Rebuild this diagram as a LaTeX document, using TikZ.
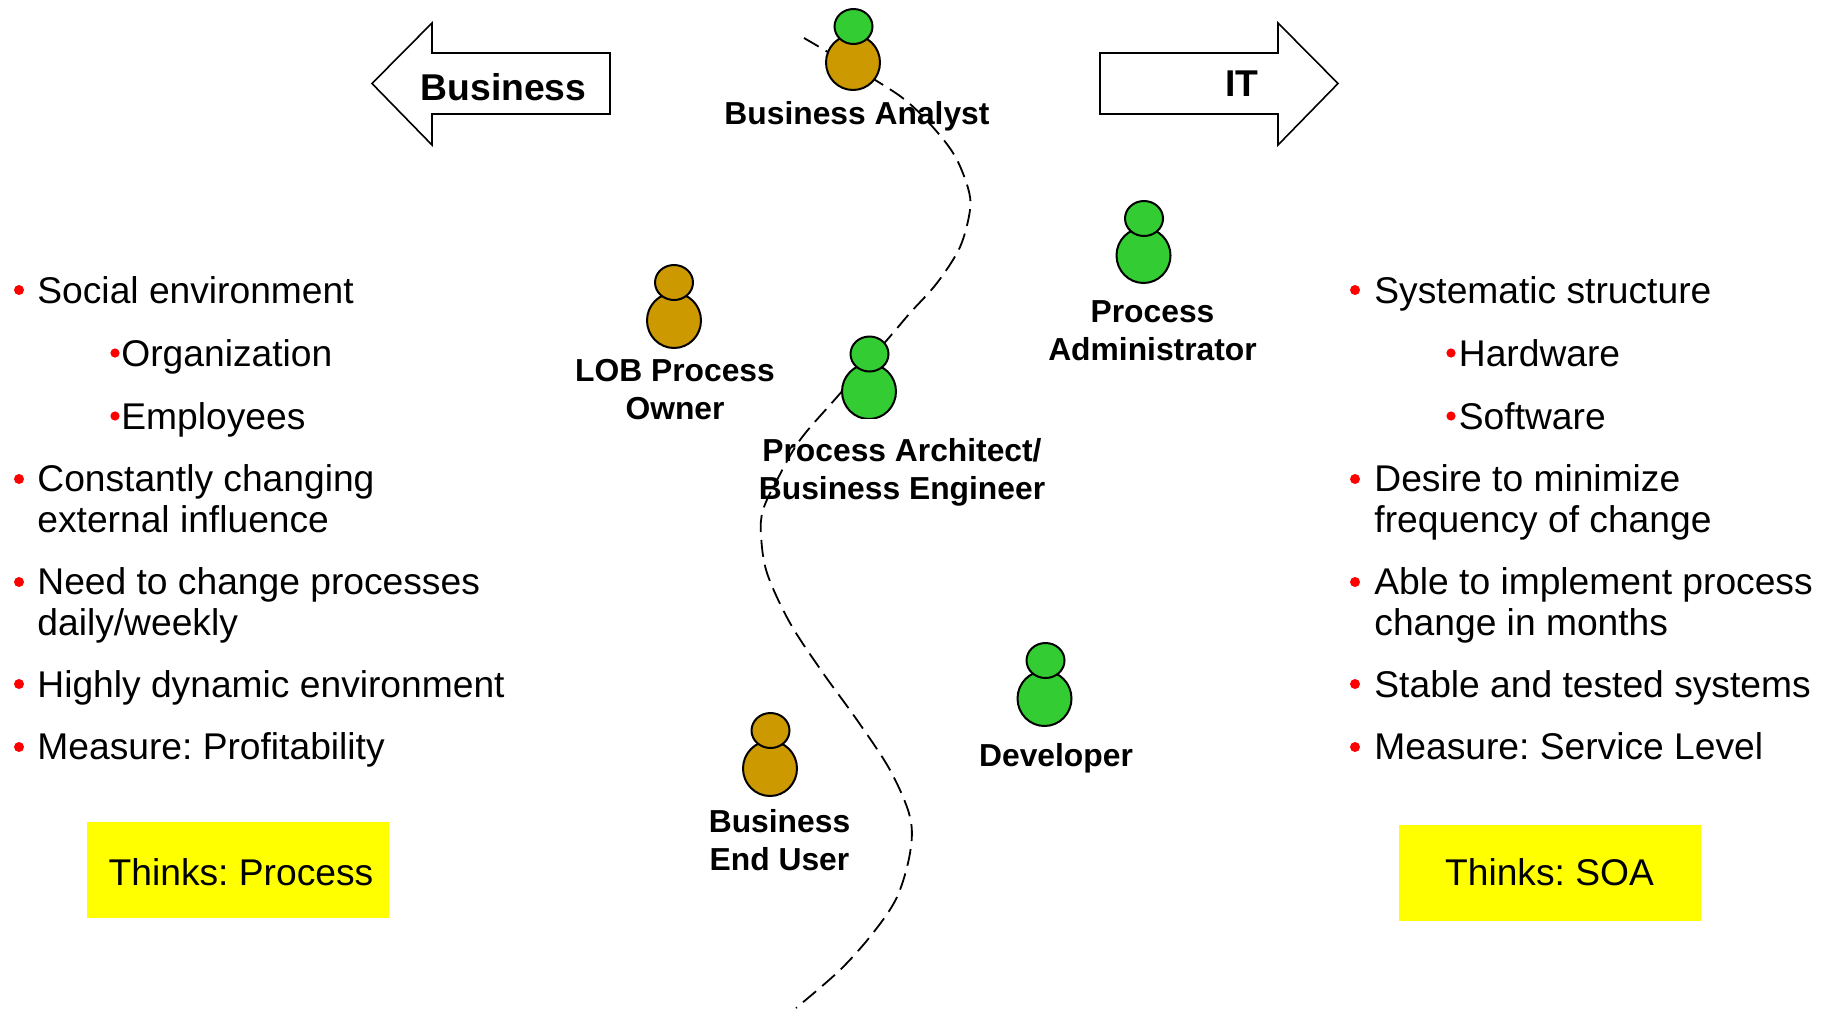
\documentclass[tikz,border=0pt]{standalone}
\usepackage{fontspec}
\setmainfont{Liberation Sans}
\frenchspacing
\usetikzlibrary{shapes.geometric}
\definecolor{pgreen}{RGB}{51,204,51}
\definecolor{pbrown}{RGB}{204,153,0}
\definecolor{bulletred}{RGB}{255,0,0}
\definecolor{noteyellow}{RGB}{255,255,0}
\tikzset{
  headshape/.style={ellipse,draw=black,line width=1pt,inner sep=0pt,minimum width=19pt,minimum height=17.5pt},
  bodyshape/.style={ellipse,draw=black,line width=1pt,inner sep=0pt,minimum width=27pt,minimum height=27.5pt},
  rolelabel/.style={font=\bfseries\fontsize{15.9pt}{19pt}\selectfont,align=center,inner sep=0pt,anchor=base},
  bigarrow/.style={draw=black,line width=0.8pt,fill=white,line join=miter},
  arrowlabel/.style={font=\bfseries\fontsize{18.65pt}{22pt}\selectfont,inner sep=0pt,anchor=base},
  bodytext/.style={font=\fontsize{18.6pt}{20.5pt}\selectfont,align=left,inner sep=0pt,anchor=base west},
  dot/.style={circle,fill=bulletred,inner sep=0pt,minimum size=5pt},
  subdot/.style={circle,fill=bulletred,inner sep=0pt,minimum size=4.6pt},
  noteBox/.style={fill=noteyellow,inner sep=0pt,minimum width=151pt,minimum height=48pt},
  noteText/.style={font=\fontsize{18.6pt}{22pt}\selectfont,inner sep=0pt,anchor=base},
  boundary/.style={draw=black,line width=0.9pt,dash pattern=on 8.5pt off 4pt,line cap=butt},
}
\begin{document}
\begin{tikzpicture}[x=0.5pt,y=-0.5pt]
\useasboundingbox (0,0) rectangle (1829,1013);
% boundary
\draw[boundary] plot[smooth,tension=0.55] coordinates {(804,38)(880,83)(910,104)(938,133)(956,158)(968,188)(970,210)(960,247)(937,283)(910,313)(887,340)(837,397)(800,440)(777,480)(763,510)(761,535)(767,573)(790,623)(823,673)(857,720)(890,770)(910,817)(910,853)(897,897)(873,933)(840,970)(796,1008)};
% arrows
\draw[bigarrow] (610,53) -- (432,53) -- (432,23) -- (372,83.5) -- (432,145) -- (432,114) -- (610,114) -- cycle;
\draw[bigarrow] (1100,53) -- (1278,53) -- (1278,23) -- (1338,83.5) -- (1278,145) -- (1278,114) -- (1100,114) -- cycle;
\node[arrowlabel] (lblBusiness) at (503.5,100) {Business};
\node[arrowlabel] (lblIT) at (1242,96.5) {IT};
% people
\node[bodyshape,fill=pbrown] (analystBody) at (853,62.5) {};
\node[headshape,fill=pgreen] (analystHead) at (853.5,26.5) {};
\node[rolelabel] (analystLbl) at (857,124) {Business Analyst};
\node[bodyshape,fill=pgreen] (adminBody) at (1143.5,255.5) {};
\node[headshape,fill=pgreen] (adminHead) at (1144,218.5) {};
\node[rolelabel] (adminLbl) at (1152.5,360.5) {Process\\Administrator};
\node[bodyshape,fill=pbrown] (lobBody) at (674,320.5) {};
\node[headshape,fill=pbrown] (lobHead) at (674,282.5) {};
\node[rolelabel] (lobLbl) at (675,419) {LOB Process\\Owner};
\begin{scope}
\clip (800,320) rectangle (940,418);
\node[bodyshape,fill=pgreen] (archBody) at (869,391.5) {};
\end{scope}
\node[headshape,fill=pgreen] (archHead) at (869.5,354) {};
\node[rolelabel] (archLbl) at (902,499.5) {Process Architect/\\Business Engineer};
\node[bodyshape,fill=pgreen] (devBody) at (1044.5,698.5) {};
\node[headshape,fill=pgreen] (devHead) at (1045.5,660.5) {};
\node[rolelabel] (devLbl) at (1056,766) {Developer};
\node[bodyshape,fill=pbrown] (userBody) at (770,768.5) {};
\node[headshape,fill=pbrown] (userHead) at (770.5,730.5) {};
\node[rolelabel] (userLbl) at (779.5,870) {Business\\End User};
% left list
\node[dot] (l1d) at (19,290) {};
\node[bodytext] (l1) at (37,303) {Social environment};
\node[subdot] (l2d) at (115,353) {};
\node[bodytext] (l2) at (121,366) {Organization};
\node[subdot] (l3d) at (115,416) {};
\node[bodytext] (l3) at (121,429) {Employees};
\node[dot] (l4d) at (19,479) {};
\node[bodytext] (l4) at (37,532) {Constantly changing\\external influence};
\node[dot] (l5d) at (19,582) {};
\node[bodytext] (l5) at (37,635) {Need to change processes\\daily/weekly};
\node[dot] (l6d) at (19,684) {};
\node[bodytext] (l6) at (37,697) {Highly dynamic environment};
\node[dot] (l7d) at (19,747) {};
\node[bodytext] (l7) at (37,759.5) {Measure: Profitability};
% right list
\node[dot] (r1d) at (1355,290) {};
\node[bodytext] (r1) at (1374,303) {Systematic structure};
\node[subdot] (r2d) at (1451,353) {};
\node[bodytext] (r2) at (1458.5,366) {Hardware};
\node[subdot] (r3d) at (1451,416) {};
\node[bodytext] (r3) at (1458.5,429) {Software};
\node[dot] (r4d) at (1355,479) {};
\node[bodytext] (r4) at (1374,532) {Desire to minimize\\frequency of change};
\node[dot] (r5d) at (1355,582) {};
\node[bodytext] (r5) at (1374,635) {Able to implement process\\change in months};
\node[dot] (r6d) at (1355,684) {};
\node[bodytext] (r6) at (1374,697) {Stable and tested systems};
\node[dot] (r7d) at (1355,747) {};
\node[bodytext] (r7) at (1374,759.5) {Measure: Service Level};
% notes
\node[noteBox] (noteL) at (238,870) {};
\node[noteBox] (noteR) at (1549.5,873) {};
\node[noteText] (noteLt) at (241,885) {Thinks: Process};
\node[noteText] (noteRt) at (1549.5,885) {Thinks: SOA};
\end{tikzpicture}
\end{document}
